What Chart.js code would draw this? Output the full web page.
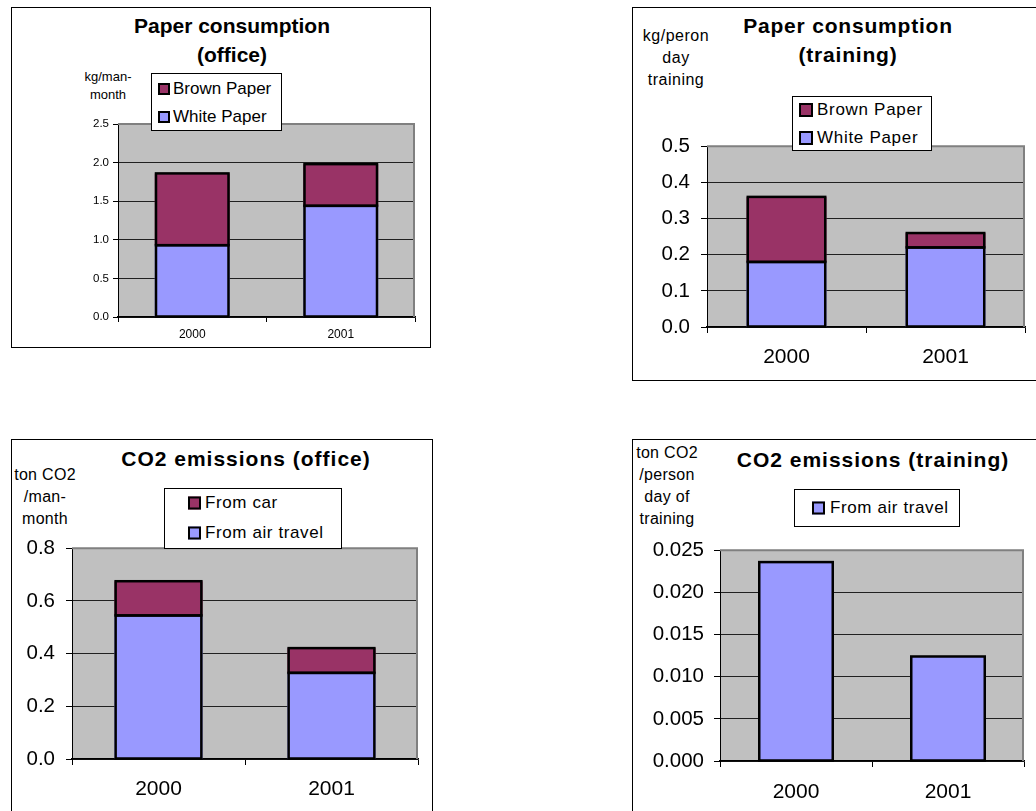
<!DOCTYPE html>
<html>
<head>
<meta charset="utf-8">
<title>Paper consumption and CO2 emissions</title>
<script src="https://cdn.jsdelivr.net/npm/chart.js@4/dist/chart.umd.min.js"></script>
<style>
  html, body { margin: 0; padding: 0; background: #fff; }
  body { width: 1036px; height: 811px; position: relative; overflow: hidden;
         font-family: "Liberation Sans", Arial, sans-serif; color: #000; }
  .panel { position: absolute; border: 1px solid #000; box-sizing: border-box; }
  .lbl { position: absolute; transform: translate(-50%, -50%); text-align: center; white-space: nowrap; }
  .title { font-weight: bold; font-size: 21px; }
  canvas { position: absolute; }
  .legend { position: absolute; background: #fff; border: 1px solid #000; box-sizing: border-box; }
  .legend .row { position: absolute; transform: translateY(-50%); white-space: nowrap; font-size: 17px; line-height: 20px; }
  .legend .sw { position: absolute; box-sizing: border-box; border: 2px solid #000; transform: translateY(-50%); }
</style>
</head>
<body>

<!-- panel frames -->
<div class="panel" style="left:11px;top:7px;width:420px;height:341px;"></div>
<div class="panel" style="left:632px;top:7px;width:500px;height:374px;"></div>
<div class="panel" style="left:11px;top:439px;width:422px;height:500px;"></div>
<div class="panel" style="left:632px;top:439px;width:500px;height:500px;"></div>

<!-- titles -->
<div class="lbl title" style="left:232px;top:40px;line-height:29px;">Paper consumption<br>(office)</div>
<div class="lbl title" style="left:848px;top:40px;line-height:29px;letter-spacing:0.8px;">Paper consumption<br>(training)</div>
<div class="lbl title" style="left:246px;top:459px;letter-spacing:1px;">CO2 emissions (office)</div>
<div class="lbl title" style="left:873px;top:460px;letter-spacing:1px;">CO2 emissions (training)</div>

<!-- unit captions -->
<div class="lbl" style="left:108px;top:86px;font-size:13px;line-height:18px;">kg/man-<br>month</div>
<div class="lbl" style="left:676px;top:58px;font-size:16px;line-height:22px;letter-spacing:0.5px;">kg/peron<br>day<br>training</div>
<div class="lbl" style="left:45px;top:497px;font-size:16px;line-height:22px;letter-spacing:0.3px;">ton CO2<br>/man-<br>month</div>
<div class="lbl" style="left:667px;top:486px;font-size:16px;line-height:22px;letter-spacing:0.3px;">ton CO2<br>/person<br>day of<br>training</div>

<script>
// ---- data ----
const years = ['2000', '2001'];

const officeWhitePaper = [0.93, 1.44];
const officeBrownPaper = [0.93, 0.54];

const trainingWhitePaper = [0.18, 0.22];
const trainingBrownPaper = [0.18, 0.04];

const officeAirCO2 = [0.545, 0.327];
const officeCarCO2 = [0.13, 0.094];

const trainingAirCO2 = [0.0236, 0.0124];

// value axis ranges: [max, step, decimals]
const officePaperAxis = [2.5, 0.5, 1];
const trainingPaperAxis = [0.5, 0.1, 1];
const officeCO2Axis = [0.8, 0.2, 1];
const trainingCO2Axis = [0.025, 0.005, 3];

// ---- styling ----
const FONT = '"Liberation Sans", Arial, sans-serif';
const BROWN = '#993366';
const LILAC = '#9999FF';
const PLOT_BG = '#C0C0C0';
const BAR_EDGE = 2.5;

// grey plot area with a darker rim on the top and right edges
const plotFrame = {
  id: 'plotFrame',
  beforeDraw(chart) {
    const { ctx, chartArea: a } = chart;
    ctx.save();
    ctx.fillStyle = PLOT_BG;
    ctx.fillRect(a.left, a.top, a.right - a.left, a.bottom - a.top);
    ctx.restore();
  },
  beforeDatasetsDraw(chart) {
    const { ctx, chartArea: a } = chart;
    ctx.save();
    ctx.strokeStyle = '#808080';
    ctx.lineWidth = 2;
    ctx.beginPath();
    ctx.moveTo(a.left, a.top);
    ctx.lineTo(a.right - 1, a.top);
    ctx.lineTo(a.right - 1, a.bottom);
    ctx.stroke();
    ctx.restore();
  }
};

// solid black outline round every bar segment, taken from the bar elements
const barOutline = {
  id: 'barOutline',
  afterDatasetsDraw(chart) {
    const { ctx } = chart;
    ctx.save();
    ctx.strokeStyle = '#000';
    ctx.lineWidth = BAR_EDGE;
    ctx.lineJoin = 'miter';
    chart.data.datasets.forEach((ds, i) => {
      chart.getDatasetMeta(i).data.forEach(bar => {
        const p = bar.getProps(['x', 'y', 'base', 'width'], true);
        const l = p.x - p.width / 2, r = p.x + p.width / 2;
        const t = Math.min(p.y, p.base), b = Math.max(p.y, p.base);
        ctx.strokeRect(l + BAR_EDGE / 2, t, r - l - BAR_EDGE, b - t);
      });
    });
    ctx.restore();
  }
};

function segment(label, data, color) {
  return { label, data, backgroundColor: color, borderWidth: 0, inflateAmount: 0 };
}

// plot: target plot rectangle on the page; fonts and tick gaps per chart
function makeChart(o) {
  const ML = 80, MT = 14, MR = 8, MB = 50, YW = 70, XH = 45;
  const cv = document.createElement('canvas');
  const w = (o.plot.r - o.plot.l) + ML + MR;
  const h = (o.plot.b - o.plot.t) + MT + MB;
  cv.width = w; cv.height = h;
  cv.style.left = (o.plot.l - ML) + 'px';
  cv.style.top = (o.plot.t - MT) + 'px';
  cv.style.width = w + 'px';
  cv.style.height = h + 'px';
  document.body.appendChild(cv);

  const [max, step, dec] = o.axis;
  const chart = new Chart(cv, {
    type: 'bar',
    data: { labels: years, datasets: o.datasets },
    options: {
      responsive: false,
      animation: false,
      devicePixelRatio: 1,
      layout: { padding: { left: ML - YW, top: MT, right: MR, bottom: MB - XH } },
      datasets: { bar: { categoryPercentage: 1, barPercentage: o.barPct } },
      plugins: { legend: { display: false }, tooltip: { enabled: false }, title: { display: false } },
      scales: {
        x: {
          stacked: true,
          afterFit(s) { s.height = XH; },
          grid: { drawOnChartArea: false, offset: true, tickLength: o.xTick, tickColor: '#000', tickWidth: 1 },
          border: { color: '#000', width: 1.5 },
          ticks: { color: '#000', padding: o.xPad, font: { family: FONT, size: o.xFont } }
        },
        y: {
          stacked: true,
          min: 0, max: max,
          afterFit(s) { s.width = YW; },
          grid: { color: '#202020', lineWidth: 1, tickLength: o.yTick, tickColor: '#000', tickWidth: 1 },
          border: { color: '#000', width: 1 },
          ticks: {
            stepSize: step, color: '#000', padding: o.yPad,
            font: { family: FONT, size: o.yFont },
            callback: v => Number(v).toFixed(dec)
          }
        }
      }
    },
    plugins: [plotFrame, barOutline]
  });

  // legend built from the chart's own datasets, top entry = top of the stack
  const lg = o.legend;
  const box = document.createElement('div');
  box.className = 'legend';
  Object.assign(box.style, { left: lg.box[0] + 'px', top: lg.box[1] + 'px', width: lg.box[2] + 'px', height: lg.box[3] + 'px' });
  const items = chart.data.datasets.slice().reverse();
  items.forEach((ds, i) => {
    const sw = document.createElement('div');
    sw.className = 'sw';
    Object.assign(sw.style, { left: lg.swX + 'px', top: lg.rows[i] + 'px', width: lg.sw + 'px', height: lg.sw + 'px', background: ds.backgroundColor });
    const tx = document.createElement('div');
    tx.className = 'row';
    tx.textContent = ds.label;
    Object.assign(tx.style, { left: lg.textX + 'px', top: lg.rows[i] + 'px', letterSpacing: (lg.ls || 0) + 'px' });
    box.appendChild(sw);
    box.appendChild(tx);
  });
  document.body.appendChild(box);
  return chart;
}

makeChart({
  plot: { l: 118, t: 124, r: 415, b: 317 },
  axis: officePaperAxis, barPct: 0.505,
  xFont: 12, xTick: 5, xPad: 5, yFont: 11.5, yTick: 5, yPad: 4,
  datasets: [
    segment('White Paper', officeWhitePaper, LILAC),
    segment('Brown Paper', officeBrownPaper, BROWN)
  ],
  legend: { box: [151, 73, 131, 58], swX: 6, textX: 21, sw: 12, rows: [15, 43] }
});

makeChart({
  plot: { l: 707, t: 137, r: 1025, b: 327 },
  axis: trainingPaperAxis, barPct: 0.503,
  xFont: 21, xTick: 6, xPad: 12, yFont: 20.5, yTick: 6, yPad: 11,
  datasets: [
    segment('White Paper', trainingWhitePaper, LILAC),
    segment('Brown Paper', trainingBrownPaper, BROWN)
  ],
  legend: { box: [792, 96, 140, 55], swX: 6, textX: 24, sw: 14, rows: [13, 41], ls: 0.7 }
});

makeChart({
  plot: { l: 72, t: 539, r: 418, b: 759 },
  axis: officeCO2Axis, barPct: 0.51,
  xFont: 21, xTick: 6, xPad: 12, yFont: 20.5, yTick: 6, yPad: 11,
  datasets: [
    segment('From air travel', officeAirCO2, LILAC),
    segment('From car', officeCarCO2, BROWN)
  ],
  legend: { box: [164, 488, 178, 61], swX: 23, textX: 40, sw: 13, rows: [14, 44], ls: 0.6 }
});

makeChart({
  plot: { l: 720, t: 542, r: 1024, b: 761 },
  axis: trainingCO2Axis, barPct: 0.5,
  xFont: 21, xTick: 6, xPad: 13, yFont: 20.5, yTick: 6, yPad: 10,
  datasets: [
    segment('From air travel', trainingAirCO2, LILAC)
  ],
  legend: { box: [794, 489, 166, 38], swX: 17, textX: 35, sw: 13, rows: [18], ls: 0.6 }
});
</script>
</body>
</html>
